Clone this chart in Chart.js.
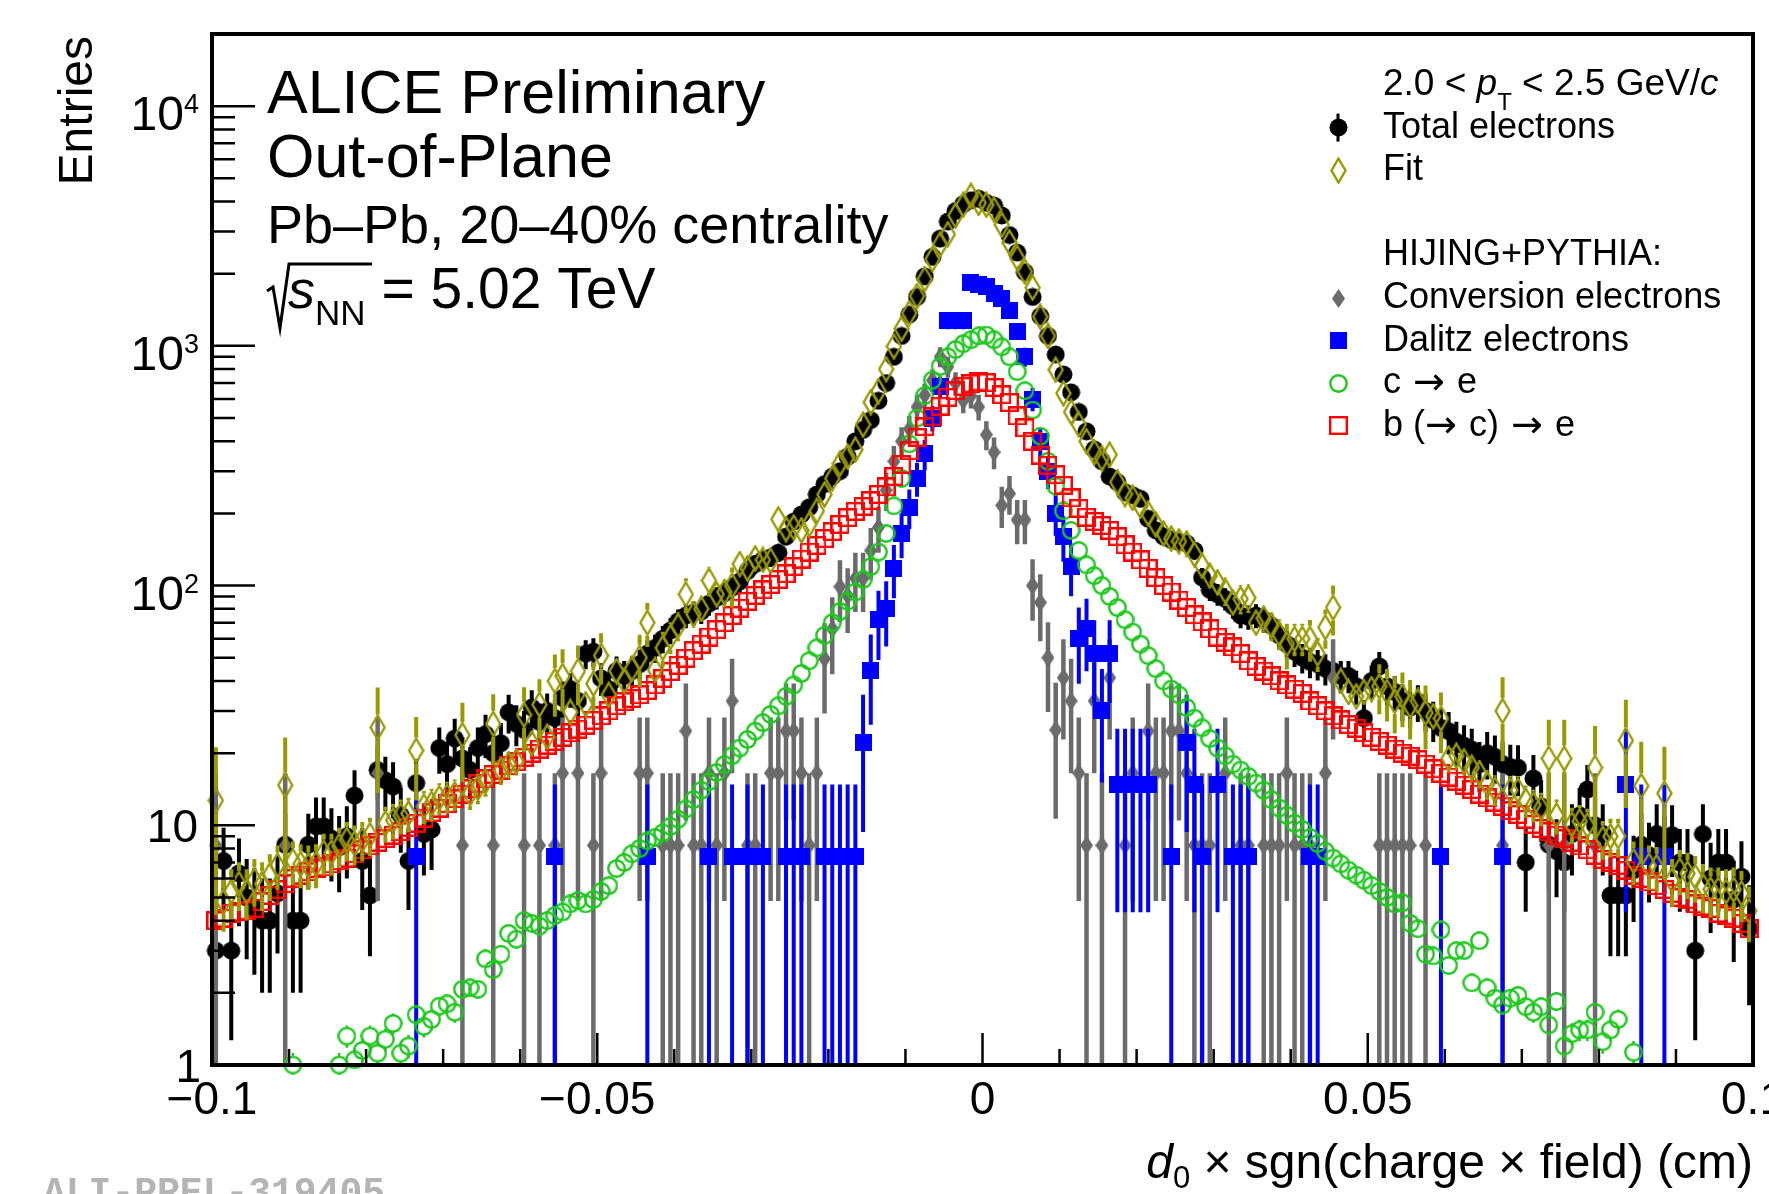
<!DOCTYPE html>
<html lang="en">
<head>
<meta charset="UTF-8">
<title>Impact parameter distribution, out-of-plane</title>
<style>
    html, body { margin: 0; padding: 0; background: #fff; }
    #chart { display: block; }
</style>
</head>
<body>
<canvas id="chart" width="1769" height="1194"></canvas>
<script src="https://cdn.jsdelivr.net/npm/chart.js"></script>
<script>
// binning of the d0 histograms: 200 bins between -0.1 and 0.1 cm
const xMin = -0.1;
const xMax = 0.1;
const nBins = 200;
const yMin = 1;
const yMax = 2e4;

// total electrons (data), one value per bin
const totalElectrons = [
    3.0, 7.1, 3.0, 6.3, 5.0, 4.5, 4.0, 4.0, 5.2, 8.3,
    4.0, 4.0, 8.3, 9.9, 9.9, 8.8, 8.1, 9.0, 13.3, 7.1,
    5.1, 17, 15.4, 14.5, 11, 7.1, 15, 9.2, 9.6, 21,
    18, 23, 19, 17, 21, 24, 20, 22, 29.6, 26.5,
    25, 31, 27, 30, 28, 34, 37, 33, 52, 53,
    41, 37, 44, 42, 44, 47, 52, 55, 60, 65,
    71, 75, 77, 78, 84, 89, 93, 98, 104, 115,
    123, 128, 131, 137, 160, 185, 198, 212, 240, 265,
    285, 300, 345, 400, 446, 490, 590, 700, 900, 1100,
    1350, 1600, 1950, 2350, 2800, 3300, 3650, 3900, 4050, 4110,
    3950, 3850, 3500, 2900, 2450, 2030, 1600, 1330, 1100, 920,
    760, 640, 530, 440, 370, 330, 285, 270, 245, 238,
    230, 190, 170, 160, 155, 152, 150, 140, 108, 96,
    92, 88, 82, 75, 74, 75, 72, 68, 62, 57,
    53, 50, 48, 47, 45, 44, 42, 42, 38, 28,
    40, 46, 38, 36, 33, 31, 32.7, 30, 27.5, 25.5,
    24.7, 22.3, 21.5, 20.7, 18, 20, 19.3, 18, 17.5, 17.4,
    7.0, 15.7, 12, 8.3, 7.8, 7.0, 9.2, 11, 14.1, 10,
    9.2, 5.1, 5.1, 5.1, 6.5, 8.3, 7.5, 9.2, 8.0, 9.1,
    7.0, 7.0, 3.0, 9.2, 6.0, 7.0, 7.0, 4.9, 6.1, 3.7
];

// template fit
const fitValues = [
    12.7, 4.8, 5.3, 5.7, 5.3, 5.9, 5.7, 6.2, 6.8, 14.7,
    7.1, 6.9, 6.8, 6.9, 7.7, 7.7, 8.2, 8.7, 8.4, 8.7,
    9.1, 25.6, 10.2, 10.5, 11.0, 11.2, 20.5, 12.0, 12.3, 13.0,
    13.2, 13.5, 23.8, 13.6, 14.3, 15.3, 26.5, 17.0, 18.0, 18.5,
    28.9, 22.0, 31.9, 23.4, 40, 42, 29.7, 44, 32, 39,
    51, 35, 44, 40, 45, 50, 70, 44.5, 55, 61,
    68, 92, 76, 80, 105, 92, 94, 100, 123, 118,
    130, 128, 127, 189, 172, 175, 170, 180, 205, 240,
    280, 323, 345, 369, 470, 582, 648, 800, 995, 1180,
    1371, 1614, 1900, 2300, 2650, 2925, 3500, 3880, 4225, 3950,
    3880, 3700, 3200, 2700, 2330, 2040, 1750, 1323, 1100, 795,
    634, 530, 470, 400, 360, 340, 352, 270, 241, 232,
    215, 200, 180, 165, 157, 153, 150, 135, 121, 110,
    103, 95, 85, 88, 89, 70, 73, 68, 63, 57,
    60, 60, 60, 52, 67, 81, 40, 36, 34.5, 36,
    37, 38, 36, 33, 34.5, 31.6, 33, 29.5, 28.5, 27.9,
    19, 19.5, 18.5, 17.4, 16.5, 14.9, 14.1, 30, 14, 14,
    12.7, 12.2, 11.8, 19, 11, 19, 10.1, 10.4, 10, 17.4,
    8.8, 9.0, 9.0, 22.6, 7.1, 14.6, 6.8, 6.7, 13.6, 5.9,
    6.5, 6.3, 6.1, 5.6, 5.4, 5.4, 5.3, 5.4, 5.2, 4.4
];

// b (-> c) -> e template
const beautyValues = [
    4.0, 4.1, 4.3, 4.35, 4.4, 4.5, 4.8, 5.1, 5.4, 5.7,
    6.0, 6.2, 6.4, 6.6, 6.7, 6.9, 7.1, 7.3, 7.6, 7.9,
    8.2, 8.5, 8.8, 9.1, 9.4, 9.8, 10.2, 10.7, 11.3, 11.8,
    12.3, 12.9, 13.5, 14.2, 14.9, 15.6, 16.3, 17.0, 17.7, 18.4,
    19.2, 20.0, 20.8, 21.6, 22.4, 23.3, 24.3, 25.2, 26.2, 27.4,
    28.6, 30.0, 31.5, 32.8, 33.8, 35.0, 36.5, 38.5, 41.0, 43.8,
    46.5, 49.8, 53.5, 57.0, 61.0, 65.5, 70.0, 75.0, 80.5, 86.0,
    91, 96, 101, 106, 112, 120, 129, 138, 147, 157,
    168, 180, 192, 204, 214, 226, 240, 258, 285, 320,
    365, 415, 460, 505, 560, 610, 650, 678, 695, 708,
    702, 670, 625, 580, 510, 455, 400, 350, 318, 290,
    262, 232, 210, 193, 185, 178, 170, 160, 148, 138,
    128, 118, 108, 100, 94, 87, 81, 75.5, 70.5, 66,
    61, 58, 55.5, 52, 48.5, 46, 44, 42, 40, 38.5,
    37, 35.5, 33, 31.5, 30, 28.6, 27.5, 26.3, 25.4, 24.3,
    23.3, 22.4, 21.6, 20.8, 20.0, 19.4, 18.8, 18.0, 17.2, 16.5,
    15.9, 15.3, 14.7, 14.1, 13.5, 13.0, 12.5, 12.0, 11.5, 11.1,
    10.6, 10.1, 9.7, 9.4, 9.1, 8.8, 8.5, 8.2, 7.9, 7.5,
    7.2, 7.0, 6.8, 6.5, 6.2, 6.0, 5.8, 5.6, 5.4, 5.2,
    5.0, 4.9, 4.7, 4.6, 4.5, 4.3, 4.2, 4.1, 3.9, 3.7
];

// c -> e template (null = below the axis)
const charmValues = [
    null, null, null, null, null, null, null, null, null, null,
    1.0, null, null, null, null, null, 1.0, 1.32, 1.05, 1.15,
    1.32, 1.12, 1.28, 1.49, 1.12, 1.2, 1.62, 1.45, 1.55, 1.76,
    1.8, 1.66, 2.07, 2.1, 2.07, 2.77, 2.5, 2.9, 3.54, 3.35,
    4.0, 3.9, 3.8, 4.0, 4.2, 4.35, 4.7, 4.85, 4.7, 4.9,
    5.3, 5.6, 6.6, 7.0, 7.6, 8.0, 8.6, 8.9, 9.3, 9.9,
    10.6, 11.7, 12.8, 14.0, 15.2, 16.6, 17.9, 19.5, 21.0, 22.8,
    24.7, 26.8, 29.0, 31.5, 34.5, 38.5, 43.0, 48.5, 55.0, 62.0,
    70, 78, 86, 94, 106, 120, 138, 165, 215, 280,
    390, 500, 620, 720, 820, 900, 965, 1020, 1060, 1100,
    1110, 1060, 990, 900, 780, 650, 540, 420, 330, 260,
    205, 170, 140, 122, 110, 100, 90, 81, 72, 64,
    57, 51, 45, 40, 37, 35, 31, 28, 25.5, 23,
    21, 19.5, 18, 17, 16, 15, 14, 12.8, 11.8, 11,
    10.2, 9.6, 8.9, 8.4, 7.8, 7.3, 6.9, 6.5, 6.2, 5.9,
    5.6, 5.3, 5.0, 4.7, 4.75, 3.9, 3.7, 2.9, 2.85, 3.66,
    2.6, 3.0, 3.0, 2.2, 3.3, 2.1, 1.9, 1.78, 1.9, 1.95,
    1.75, 1.66, 1.75, 1.47, 1.84, 1.2, 1.35, 1.4, 1.4, 1.66,
    1.25, 1.4, 1.55, null, 1.13, null, null, null, null, null,
    null, null, null, null, null, null, null, null, null, null
];

// conversion electrons: filled bins and their contents
const convBins = [
    0, 9, 21, 32, 36, 40, 42, 44, 45, 47,
    49, 50, 55, 56, 58, 59, 60, 61, 62, 63,
    64, 65, 66, 67, 69, 70, 72, 73, 74, 75,
    76, 77, 78, 79, 80, 81, 82, 83, 84, 85,
    86, 87, 88, 89, 90, 91, 92, 93, 94, 95,
    96, 97, 98, 99, 100, 101, 102, 103, 104, 105,
    106, 107, 108, 109, 110, 111, 112, 113, 114, 115,
    116, 118, 119, 121, 122, 123, 124, 125, 126, 127,
    128, 129, 131, 133, 134, 136, 137, 138, 139, 140,
    141, 142, 144, 145, 151, 152, 153, 154, 155, 157,
    167, 173, 175, 179
];
const convValues = [
    8.25, 8.25, 16.5, 8.25, 8.25, 8.25, 8.25, 8.25, 16.5, 16.5,
    8.25, 16.5, 16.5, 16.5, 8.25, 8.25, 8.25, 24.75, 8.25, 8.25,
    16.5, 8.25, 16.5, 33, 8.25, 8.25, 16.5, 16.5, 24.75, 24.75,
    16.5, 8.25, 16.5, 49.5, 66, 99, 90.75, 107.25, 107.25, 140,
    175, 250, 330, 400, 450, 556, 623, 719, 900, 818,
    700, 593, 620, 556, 426, 360, 216, 242, 188, 188,
    100, 85, 50, 25, 41.25, 33, 16.5, 8.25, 33, 8.25,
    41.25, 8.25, 16.5, 24.75, 16.5, 16.5, 24.75, 24.75, 16.5, 8.25,
    8.25, 8.25, 16.5, 8.25, 8.25, 8.25, 8.25, 8.25, 16.5, 8.25,
    8.25, 8.25, 16.5, 41.25, 8.25, 8.25, 8.25, 8.25, 8.25, 8.25,
    8.25, 8.25, 8.25, 8.25
];

// Dalitz electrons: filled bins and their contents
const dalitzBins = [
    26, 44, 56, 64, 67, 69, 71, 74, 75, 76,
    79, 80, 81, 82, 83, 84, 85, 86, 87, 88,
    89, 90, 91, 92, 93, 94, 95, 96, 97, 98,
    99, 100, 101, 102, 103, 104, 105, 106, 107, 108,
    109, 110, 111, 112, 113, 114, 115, 116, 117, 118,
    119, 120, 121, 124, 126, 127, 128, 130, 132, 133,
    134, 142, 143, 159, 167, 183, 185, 188
];
const dalitzValues = [
    7.4, 7.4, 7.4, 7.4, 7.4, 7.4, 7.4, 7.4, 7.4, 7.4,
    7.4, 7.4, 7.4, 7.4, 7.4, 22.2, 44.4, 72, 80, 118,
    165, 212, 280, 354, 500, 675, 1270, 1270, 1270, 1830,
    1800, 1770, 1650, 1580, 1400, 1150, 900, 600, 400, 300,
    200, 160, 120, 60, 66, 52, 30, 52, 14.8, 14.8,
    14.8, 14.8, 14.8, 7.4, 22.2, 14.8, 7.4, 14.8, 7.4, 7.4,
    7.4, 7.4, 7.4, 7.4, 7.4, 14.8, 7.4, 7.4
];

// per-entry weights of each histogram (error = sqrt(content * weight))
const weightTotal = 1;
const weightConv = 8.25;
const weightDalitz = 7.4;
const weightCharm = 0.015;
const weightBeauty = 0.008;
const weightFit = 0.3;

// axis ticks and labels
const xLabelValues = [-0.1, -0.05, 0, 0.05, 0.1];
const xLabels = ['\u22120.1', '\u22120.05', '0', '0.05', '0.1'];
const yDecadeExponents = [0, 1, 2, 3, 4];

const FONT = '"Liberation Sans", Arial, Helvetica, sans-serif';
const ARROW_FONT = '"DejaVu Sans", sans-serif';
const olive = '#999900';
const grey = '#6b6b6b';
const blue = '#0000ff';
const green = '#1ec81e';
const red = '#ff0000';

const binWidth = (xMax - xMin) / nBins;
const binCenters = totalElectrons.map((_, i) => xMin + (i + 0.5) * binWidth);

function fromSparse(bins, values) {
    const out = new Array(nBins).fill(null);
    bins.forEach((b, k) => { out[b] = values[k]; });
    return out;
}
const convFull = fromSparse(convBins, convValues);
const dalitzFull = fromSparse(dalitzBins, dalitzValues);

const poisson = (vals, w) => vals.map(v => v == null ? 0 : Math.sqrt(v * w));
const fitErrors = fitValues.map((v, i) =>
    Math.sqrt(v * weightFit + (convFull[i] || 0) * weightConv + (dalitzFull[i] || 0) * weightDalitz));

const toPoints = vals => vals.map((v, i) => ({ x: binCenters[i], y: v }));

function makeMarker(w, h, paint) {
    const c = document.createElement('canvas');
    c.width = w;
    c.height = h;
    paint(c.getContext('2d'), w, h);
    return c;
}

const markers = {
    total: makeMarker(19, 19, (g, w, h) => {
        g.fillStyle = '#000';
        g.beginPath(); g.arc(w / 2, h / 2, 9, 0, Math.PI * 2); g.fill();
    }),
    fit: makeMarker(17, 27, (g, w, h) => {
        g.strokeStyle = olive; g.lineWidth = 2.4;
        g.beginPath();
        g.moveTo(w / 2, 1.5); g.lineTo(w - 1.5, h / 2); g.lineTo(w / 2, h - 1.5); g.lineTo(1.5, h / 2);
        g.closePath(); g.stroke();
    }),
    conv: makeMarker(13, 19, (g, w, h) => {
        g.fillStyle = grey;
        g.beginPath();
        g.moveTo(w / 2, 0); g.lineTo(w, h / 2); g.lineTo(w / 2, h); g.lineTo(0, h / 2);
        g.closePath(); g.fill();
    }),
    dalitz: makeMarker(17, 17, (g, w, h) => {
        g.fillStyle = blue; g.fillRect(0, 0, w, h);
    }),
    charm: makeMarker(19, 19, (g, w, h) => {
        g.strokeStyle = green; g.lineWidth = 2.4;
        g.beginPath(); g.arc(w / 2, h / 2, 8.2, 0, Math.PI * 2); g.stroke();
    }),
    beauty: makeMarker(19, 19, (g, w, h) => {
        g.strokeStyle = red; g.lineWidth = 2.4;
        g.strokeRect(1.2, 1.2, w - 2.4, h - 2.4);
    })
};

function series(label, vals, marker, errors, errColor, errWidth, errGap) {
    return {
        label: label,
        data: toPoints(vals),
        pointStyle: marker,
        pointRadius: 10,
        showLine: false,
        clip: false,
        errors: errors,
        errorColor: errColor,
        errorWidth: errWidth,
        errorGap: errGap
    };
}

// first dataset is drawn on top
const datasets = [
    series('Fit', fitValues, markers.fit, fitErrors, olive, 4, 13),
    series('b (\u2192 c) \u2192 e', beautyValues, markers.beauty, poisson(beautyValues, weightBeauty), red, 2, 9),
    series('c \u2192 e', charmValues, markers.charm, poisson(charmValues, weightCharm), green, 2.5, 8.5),
    series('Dalitz electrons', dalitzFull, markers.dalitz, poisson(dalitzFull, weightDalitz), blue, 4, 0),
    series('Conversion electrons', convFull, markers.conv, poisson(convFull, weightConv), grey, 4.5, 0),
    series('Total electrons', totalElectrons, markers.total, poisson(totalElectrons, weightTotal), '#000', 4, 0)
];

// vertical error bars, drawn just before the markers of each dataset
const errorBars = {
    id: 'errorBars',
    beforeDatasetDraw(chart, args) {
        const ds = chart.data.datasets[args.index];
        if (!ds.errors) return;
        const { ctx, chartArea: a, scales: { x, y } } = chart;
        ctx.save();
        ctx.beginPath();
        ctx.rect(a.left, a.top, a.right - a.left, a.bottom - a.top);
        ctx.clip();
        ctx.strokeStyle = ds.errorColor;
        ctx.lineWidth = ds.errorWidth;
        ctx.beginPath();
        ds.data.forEach((p, i) => {
            if (p.y == null) return;
            const e = ds.errors[i];
            const px = x.getPixelForValue(p.x);
            const py = y.getPixelForValue(p.y);
            const top = y.getPixelForValue(p.y + e);
            const bot = p.y - e > 0 ? y.getPixelForValue(p.y - e) : a.bottom + 20;
            const gap = ds.errorGap;
            if (top < py - gap) { ctx.moveTo(px, py - gap); ctx.lineTo(px, top); }
            if (bot > py + gap) { ctx.moveTo(px, py + gap); ctx.lineTo(px, bot); }
        });
        ctx.stroke();
        ctx.restore();
    }
};

function fontOf(p) {
    return (p.italic ? 'italic ' : '') + p.size + 'px ' + (p.family || FONT);
}

function drawRich(ctx, x, y, parts, align) {
    let total = 0;
    parts.forEach(p => {
        ctx.font = fontOf(p);
        p.w = ctx.measureText(p.t).width;
        total += p.w;
    });
    let cx = align === 'right' ? x - total : align === 'center' ? x - total / 2 : x;
    ctx.textAlign = 'left';
    ctx.textBaseline = 'alphabetic';
    parts.forEach(p => {
        ctx.font = fontOf(p);
        ctx.fillText(p.t, cx, y + (p.dy || 0));
        cx += p.w;
    });
}

// ROOT-like frame with inward ticks on the left and bottom axes
const rootFrame = {
    id: 'rootFrame',
    afterDatasetsDraw(chart) {
        const { ctx, chartArea: a, scales: { x, y } } = chart;
        ctx.save();
        ctx.strokeStyle = '#000';
        ctx.lineWidth = 2.5;
        ctx.beginPath();
        for (let k = -10; k <= 10; k++) {
            const px = x.getPixelForValue(k / 100);
            const len = k % 5 === 0 ? 32 : 16;
            ctx.moveTo(px, a.bottom); ctx.lineTo(px, a.bottom - len);
        }
        yDecadeExponents.forEach(n => {
            const d = Math.pow(10, n);
            const py = y.getPixelForValue(d);
            ctx.moveTo(a.left, py); ctx.lineTo(a.left + 43, py);
            for (let m = 2; m <= 9; m++) {
                if (m * d > yMax) break;
                const pm = y.getPixelForValue(m * d);
                ctx.moveTo(a.left, pm); ctx.lineTo(a.left + 23, pm);
            }
        });
        ctx.stroke();
        ctx.lineWidth = 4;
        ctx.strokeRect(a.left, a.top, a.right - a.left, a.bottom - a.top);
        ctx.restore();
    }
};

const arrow = { t: ' \u2192 ', size: 38, family: ARROW_FONT, dy: 1 };
const legendRows = [
    { marker: 'total', parts: [{ t: 'Total electrons', size: 36 }] },
    { marker: 'fit', parts: [{ t: 'Fit', size: 36 }] },
    null,
    { marker: null, parts: [{ t: 'HIJING+PYTHIA:', size: 36 }] },
    { marker: 'conv', parts: [{ t: 'Conversion electrons', size: 36 }] },
    { marker: 'dalitz', parts: [{ t: 'Dalitz electrons', size: 36 }] },
    { marker: 'charm', parts: [{ t: 'c', size: 36 }, arrow, { t: 'e', size: 36 }] },
    { marker: 'beauty', parts: [{ t: 'b (', size: 36 }, { t: '\u2192 ', size: 38, family: ARROW_FONT, dy: 1 },
        { t: 'c)', size: 36 }, arrow, { t: 'e', size: 36 }] }
];

const annotations = {
    id: 'annotations',
    afterDraw(chart) {
        const { ctx, scales: { x, y } } = chart;
        ctx.save();
        ctx.fillStyle = '#000';

        // y tick labels
        yDecadeExponents.forEach(n => {
            const py = y.getPixelForValue(Math.pow(10, n));
            if (n === 0) drawRich(ctx, 201, py + 17, [{ t: '1', size: 46 }], 'right');
            else if (n === 1) drawRich(ctx, 198, py + 17, [{ t: '10', size: 46 }], 'right');
            else drawRich(ctx, 199, py + 24, [{ t: '10', size: 48 }, { t: String(n), size: 27, dy: -17 }], 'right');
        });
        // x tick labels
        xLabelValues.forEach((v, i) => {
            drawRich(ctx, x.getPixelForValue(v), 1114, [{ t: xLabels[i], size: 46 }], 'center');
        });
        // axis titles
        drawRich(ctx, 1753, 1178, [
            { t: 'd', size: 48, italic: true },
            { t: '0', size: 31, dy: 10 },
            { t: ' \u00d7 sgn(charge \u00d7 field) (cm)', size: 48 }
        ], 'right');
        ctx.save();
        ctx.translate(92, 36);
        ctx.rotate(-Math.PI / 2);
        ctx.font = '48px ' + FONT;
        ctx.textAlign = 'right';
        ctx.fillText('Entries', 0, 0);
        ctx.restore();

        // labels in the upper left
        drawRich(ctx, 267, 113, [{ t: 'ALICE Preliminary', size: 61 }]);
        drawRich(ctx, 267, 177, [{ t: 'Out-of-Plane', size: 61 }]);
        drawRich(ctx, 267, 243, [{ t: 'Pb\u2013Pb, 20\u201340% centrality', size: 54 }]);
        ctx.strokeStyle = '#000';
        ctx.lineWidth = 3;
        ctx.beginPath();
        ctx.moveTo(267, 291); ctx.lineTo(273, 287); ctx.lineTo(280, 328); ctx.lineTo(289, 264); ctx.lineTo(372, 264);
        ctx.stroke();
        drawRich(ctx, 288, 308, [
            { t: 's', size: 54, italic: true },
            { t: 'NN', size: 35, dy: 17 },
            { t: ' = 5.02 TeV', size: 57 }
        ]);

        // legend
        drawRich(ctx, 1383, 95, [
            { t: '2.0 < ', size: 37 },
            { t: 'p', size: 37, italic: true },
            { t: 'T', size: 24, dy: 15 },
            { t: ' < 2.5 GeV/', size: 37 },
            { t: 'c', size: 37, italic: true }
        ]);
        legendRows.forEach((row, k) => {
            if (!row) return;
            const base = 137.6 + k * 42.6;
            drawRich(ctx, 1383, base, row.parts);
            if (row.marker) {
                const img = markers[row.marker];
                const cy = base - 10;
                if (row.marker === 'total') {
                    ctx.strokeStyle = '#000'; ctx.lineWidth = 3;
                    ctx.beginPath(); ctx.moveTo(1338, cy - 14); ctx.lineTo(1338, cy + 14); ctx.stroke();
                }
                ctx.drawImage(img, Math.round(1338 - img.width / 2), Math.round(cy - img.height / 2));
            }
        });

        // figure identifier, cut at the bottom edge
        ctx.fillStyle = '#b4b4b4';
        ctx.font = 'bold 38px "Liberation Mono", "DejaVu Sans Mono", monospace';
        ctx.textAlign = 'left';
        ctx.fillText('ALI-PREL-319405', 43, 1204);
        ctx.restore();
    }
};

const ctx = document.getElementById('chart').getContext('2d');
new Chart(ctx, {
    type: 'scatter',
    data: { datasets: datasets },
    options: {
        responsive: false,
        animation: false,
        devicePixelRatio: 1,
        events: [],
        layout: { padding: { left: 212, top: 34, right: 16, bottom: 129 } },
        plugins: {
            legend: { display: false },
            tooltip: { enabled: false }
        },
        scales: {
            x: { type: 'linear', min: xMin, max: xMax, display: false },
            y: { type: 'logarithmic', min: yMin, max: yMax, display: false }
        }
    },
    plugins: [errorBars, rootFrame, annotations]
});
</script>
</body>
</html>
